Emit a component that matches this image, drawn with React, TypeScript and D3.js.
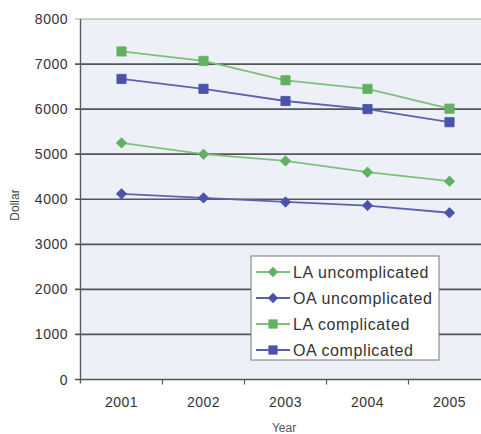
import React from "react";
import * as d3 from "d3";

const years = ["2001", "2002", "2003", "2004", "2005"];
const yTicks = [0, 1000, 2000, 3000, 4000, 5000, 6000, 7000, 8000];
const laUncomplicated = [5250, 5000, 4850, 4600, 4400];
const oaUncomplicated = [4120, 4030, 3940, 3860, 3700];
const laComplicated = [7280, 7070, 6640, 6450, 6010];
const oaComplicated = [6670, 6450, 6180, 6000, 5710];

const GREEN = "#7dc07d";
const GREEN_M = "#62b062";
const BLUE = "#5c62b0";
const BLUE_M = "#4b52aa";

const series = [
  { name: "LA uncomplicated", values: laUncomplicated, line: GREEN, fill: GREEN_M, shape: "diamond" },
  { name: "OA uncomplicated", values: oaUncomplicated, line: BLUE, fill: BLUE_M, shape: "diamond" },
  { name: "LA complicated", values: laComplicated, line: GREEN, fill: GREEN_M, shape: "square" },
  { name: "OA complicated", values: oaComplicated, line: BLUE, fill: BLUE_M, shape: "square" },
];

const W = 481;
const H = 434;

export default function App() {
  const x = d3.scaleBand<string>().domain(years).range([80.5, 490.5]);
  const y = d3.scaleLinear().domain([0, 8000]).range([379.5, 19]);
  const xc = (d: string) => (x(d) as number) + x.bandwidth() / 2;
  const line = d3
    .line<number>()
    .x((_, i) => xc(years[i]))
    .y((v) => y(v));
  const r = 5.2;
  const diamond = `M0,${-r}L${r},0L0,${r}L${-r},0Z`;
  const square = d3.symbol().type(d3.symbolSquare).size(85)();
  const font = "Arial, 'Liberation Sans', sans-serif";

  const legendX = 251;
  const legendY = 256;
  const legendRows = [272, 298, 324, 350];

  return (
    <svg
      width={W}
      height={H}
      style={{ position: "absolute", left: 0, top: 0, background: "#fff" }}
      fontFamily={font}
    >
      <rect x={x.range()[0]} y={y(8000)} width={W - x.range()[0]} height={y(0) - y(8000)} fill="#eef0f8" />
      {yTicks.map((t) => (
        <g key={t}>
          <line
            x1={75}
            x2={W}
            y1={y(t)}
            y2={y(t)}
            stroke={t === 8000 ? "#aaaaaa" : "#555"}
            strokeWidth={t === 8000 ? 1.2 : 1.7}
          />
          <text x={68} y={y(t)} dy="0.36em" textAnchor="end" fontSize={14} fill="#333" letterSpacing={0.5}>
            {t}
          </text>
        </g>
      ))}
      <line x1={80.5} x2={80.5} y1={y(8000)} y2={y(0) + 4} stroke="#5a5a5a" strokeWidth={1.4} />
      {years.map((yr, i) =>
        i === 0 ? null : (
          <line key={yr} x1={x(yr)} x2={x(yr)} y1={y(0)} y2={y(0) + 5} stroke="#5a5a5a" strokeWidth={1.2} />
        )
      )}
      {years.map((yr) => (
        <text key={yr} x={xc(yr)} y={407} textAnchor="middle" fontSize={14} fill="#333" letterSpacing={0.5}>
          {yr}
        </text>
      ))}
      <text x={284} y={432} textAnchor="middle" fontSize={12} fill="#555">
        Year
      </text>
      <text transform="translate(19,205) rotate(-90)" textAnchor="middle" fontSize={12} fill="#444">
        Dollar
      </text>
      {series.map((s) => (
        <g key={s.name}>
          <path d={line(s.values) as string} fill="none" stroke={s.line} strokeWidth={1.8} />
          {s.values.map((v, i) => (
            <path
              key={i}
              d={(s.shape === "square" ? square : diamond) as string}
              transform={`translate(${xc(years[i])},${y(v)})`}
              fill={s.fill}
              stroke={s.fill}
              strokeWidth={0.8}
              strokeLinejoin="round"
            />
          ))}
        </g>
      ))}
      <rect x={legendX} y={legendY} width={188} height={104} fill="#fff" stroke="#777" strokeWidth={1} />
      {series.map((s, i) => (
        <g key={s.name}>
          <line x1={256} x2={290} y1={legendRows[i]} y2={legendRows[i]} stroke={s.line} strokeWidth={1.8} />
          <path
            d={(s.shape === "square" ? square : diamond) as string}
            transform={`translate(273,${legendRows[i]})`}
            fill={s.fill}
          />
          <text x={293} y={legendRows[i]} dy="0.36em" fontSize={16} fill="#333" letterSpacing={0.6}>
            {s.name}
          </text>
        </g>
      ))}
    </svg>
  );
}
